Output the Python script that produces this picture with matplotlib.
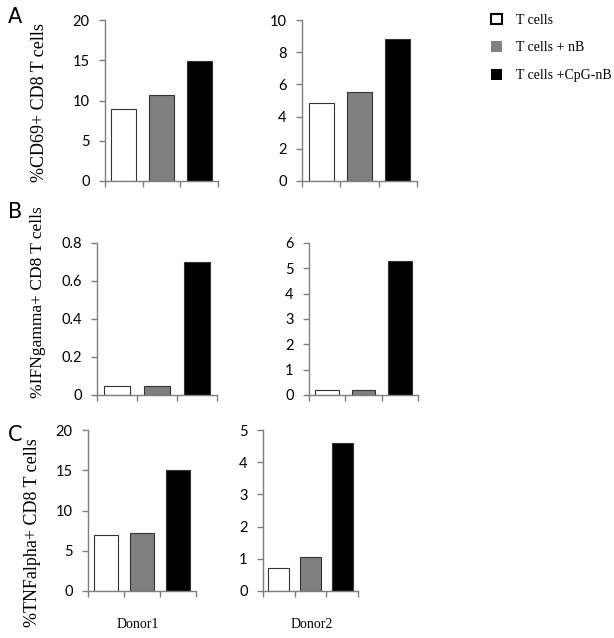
import matplotlib.pyplot as plt
from matplotlib.patches import Patch
import numpy as np

groups = ['T cells', 'T cells + nB', 'T cells +CpG-nB']
colors = ['white', '#808080', 'black']

cd69_donor1 = [9.0, 10.7, 14.9]
cd69_donor2 = [4.85, 5.5, 8.8]
ifng_donor1 = [0.05, 0.05, 0.70]
ifng_donor2 = [0.2, 0.2, 5.3]
tnfa_donor1 = [7.0, 7.2, 15.0]
tnfa_donor2 = [0.7, 1.05, 4.6]

W, H = 614, 638
fig = plt.figure(figsize=(W / 100, H / 100), dpi=100)

def px_axes(x0, x1, ytop, ybot):
    return fig.add_axes([x0 / W, 1 - ybot / H, (x1 - x0) / W, (ybot - ytop) / H])

panels = [
    (px_axes(105, 218, 20, 181), cd69_donor1, 20, 5),
    (px_axes(302, 417, 20, 181), cd69_donor2, 10, 2),
    (px_axes(97, 217, 243, 395), ifng_donor1, 0.8, 0.2),
    (px_axes(309, 418, 243, 395), ifng_donor2, 6, 1),
    (px_axes(88, 196, 430, 591), tnfa_donor1, 20, 5),
    (px_axes(263, 358, 430, 591), tnfa_donor2, 5, 1),
]

axis_gray = '#7f7f7f'
x = np.arange(3)
for ax, vals, ymax, step in panels:
    ax.bar(x, vals, width=0.66, color=colors, edgecolor='#333333', linewidth=0.8)
    ax.set_xlim(-0.5, 2.5)
    ax.set_ylim(0, ymax)
    ticks = np.round(np.arange(0, ymax + step / 2, step), 3)
    ax.set_yticks(ticks)
    ax.set_yticklabels(['%g' % t for t in ticks], fontsize=10.5, family='Lato')
    ax.set_xticks([-0.5, 0.5, 1.5, 2.5])
    ax.set_xticklabels([])
    for s in ['top', 'right']:
        ax.spines[s].set_visible(False)
    for s in ['left', 'bottom']:
        ax.spines[s].set_color(axis_gray)
        ax.spines[s].set_linewidth(1.0)
    ax.tick_params(axis='both', direction='out', length=4, color=axis_gray, width=1.0)
    ax.tick_params(axis='y', pad=7)

serif = 'Liberation Serif'
fig.text(40 / W, 1 - 103 / H, '%CD69+ CD8 T cells', rotation=90, ha='center', va='center',
         fontsize=13, family=serif)
fig.text(38 / W, 1 - 302 / H, '%IFNgamma+ CD8 T cells', rotation=90, ha='center', va='center',
         fontsize=12.5, family=serif)
fig.text(33 / W, 1 - 533 / H, '%TNFalpha+ CD8 T cells', rotation=90, ha='center', va='center',
         fontsize=13, family=serif)

for lab, (px, py) in zip(['A', 'B', 'C'], [(8, 17), (8, 212), (8, 435)]):
    fig.text(px / W, 1 - py / H, lab, ha='left', va='center', fontsize=15, family='DejaVu Sans')

fig.text(138 / W, 1 - 625 / H, 'Donor1', ha='center', va='center', fontsize=10, family=serif)
fig.text(312 / W, 1 - 625 / H, 'Donor2', ha='center', va='center', fontsize=10, family=serif)

handles = [Patch(facecolor=c, edgecolor='black', linewidth=1.5 if c == 'white' else 0) for c in colors]
fig.legend(handles, groups, loc='upper left', bbox_to_anchor=(478 / W, 1 - 1 / H), frameon=False,
           prop={'family': serif, 'size': 10}, handlelength=0.8, handleheight=0.8,
           handletextpad=1.0, labelspacing=1.05)

fig.savefig('out.png', dpi=100)
